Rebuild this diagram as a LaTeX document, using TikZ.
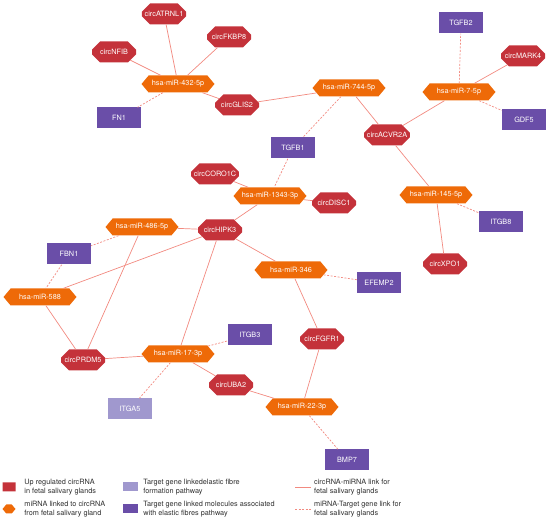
\documentclass[tikz,border=0pt]{standalone}
\usepackage{fontspec}
\setmainfont{TeX Gyre Heros}
\usepackage{xcolor}
\usepackage{tikz}
\usetikzlibrary{
arrows.meta,
positioning,
shapes.misc,
shapes.symbols
}
\definecolor{circred}{HTML}{C4323A}
\definecolor{mirorange}{HTML}{EE6A08}
\definecolor{genepurple}{HTML}{6A4EA8}
\definecolor{genelilac}{HTML}{A098CE}
\definecolor{linkpink}{HTML}{F28A80}
\definecolor{leggray}{HTML}{2E2E2E}

\begin{document}
\begin{tikzpicture}[
  x=1pt, y=-1pt,
  every node/.style={font=\fontsize{7.3}{8.8}\selectfont},
  circrna/.style={chamfered rectangle, chamfered rectangle sep=5.5pt, fill=circred, text=white, minimum width=44pt, minimum height=21pt, inner sep=0pt},
  mirna/.style={signal, signal to=east and west, signal pointer angle=100, fill=mirorange, text=white, minimum width=73pt, minimum height=17pt, inner sep=0pt},
  gene/.style={rectangle, fill=genepurple, text=white, minimum width=44pt, minimum height=21pt, inner sep=0pt},
  geneelastic/.style={gene, fill=genelilac},
  cmlink/.style={draw=linkpink, line width=0.7pt},
  mtlink/.style={draw=linkpink, line width=0.7pt, dash pattern=on 2pt off 1.5pt},
  legtext/.style={text=leggray, align=left, inner sep=0pt}
]
\useasboundingbox (0,0) rectangle (550,521);

% circRNAs
\node[circrna] (atrnl1) at (164,14) {circATRNL1};
\node[circrna] (fkbp8) at (229,37) {circFKBP8};
\node[circrna] (nfib) at (114,52) {circNFIB};
\node[circrna] (glis2) at (237,105) {circGLIS2};
\node[circrna] (mark4) at (523,56) {circMARK4};
\node[circrna] (acvr2a) at (387,135) {circACVR2A};
\node[circrna] (coro1c) at (215,174) {circCORO1C};
\node[circrna] (disc1) at (334,203) {circDISC1};
\node[circrna] (xpo1) at (445,264) {circXPO1};
\node[circrna] (hipk3) at (220,230) {circHIPK3};
\node[circrna] (prdm5) at (83,360) {circPRDM5};
\node[circrna] (uba2) at (231,385) {circUBA2};
\node[circrna] (fgfr1) at (322,339) {circFGFR1};

% miRNAs
\node[mirna] (m432) at (178,84) {hsa-miR-432-5p};
\node[mirna] (m744) at (349,88) {hsa-miR-744-5p};
\node[mirna] (m7) at (459,92) {hsa-miR-7-5p};
\node[mirna] (m1343) at (270,196) {hsa-miR-1343-3p};
\node[mirna] (m145) at (436,195) {hsa-miR-145-5p};
\node[mirna] (m486) at (142,227) {hsa-miR-486-5p};
\node[mirna] (m346) at (291,270) {hsa-miR-346};
\node[mirna] (m588) at (40,297) {hsa-miR-588};
\node[mirna] (m17) at (178,354) {hsa-miR-17-3p};
\node[mirna] (m22) at (302,407) {hsa-miR-22-3p};

% Target genes
\node[gene] (fn1) at (119,118) {FN1};
\node[gene] (tgfb2) at (461,23) {TGFB2};
\node[gene] (gdf5) at (524,120) {GDF5};
\node[gene] (tgfb1) at (293,148) {TGFB1};
\node[gene] (itgb8) at (501,222) {ITGB8};
\node[gene] (efemp2) at (379,283) {EFEMP2};
\node[gene] (fbn1) at (69,254) {FBN1};
\node[gene] (itgb3) at (250,335) {ITGB3};
\node[geneelastic] (itga5) at (130,409) {ITGA5};
\node[gene] (bmp7) at (347,460) {BMP7};

% circRNA-miRNA links
\draw[cmlink] (atrnl1) -- (m432);
\draw[cmlink] (fkbp8) -- (m432);
\draw[cmlink] (nfib) -- (m432);
\draw[cmlink] (glis2) -- (m432);
\draw[cmlink] (glis2) -- (m744);
\draw[cmlink] (m744) -- (acvr2a);
\draw[cmlink] (acvr2a) -- (m7);
\draw[cmlink] (mark4) -- (m7);
\draw[cmlink] (acvr2a) -- (m145);
\draw[cmlink] (m145) -- (xpo1);
\draw[cmlink] (coro1c) -- (m1343);
\draw[cmlink] (m1343) -- (disc1);
\draw[cmlink] (m1343) -- (hipk3);
\draw[cmlink] (hipk3) -- (m486);
\draw[cmlink] (hipk3) -- (m588);
\draw[cmlink] (hipk3) -- (m346);
\draw[cmlink] (hipk3) -- (m17);
\draw[cmlink] (m486) -- (prdm5);
\draw[cmlink] (m588) -- (prdm5);
\draw[cmlink] (prdm5) -- (m17);
\draw[cmlink] (m17) -- (uba2);
\draw[cmlink] (uba2) -- (m22);
\draw[cmlink] (m346) -- (fgfr1);
\draw[cmlink] (fgfr1) -- (m22);

% miRNA-target links
\draw[mtlink] (m432) -- (fn1);
\draw[mtlink] (m744) -- (tgfb1);
\draw[mtlink] (tgfb1) -- (m1343);
\draw[mtlink] (m7) -- (tgfb2);
\draw[mtlink] (m7) -- (gdf5);
\draw[mtlink] (m145) -- (itgb8);
\draw[mtlink] (m486) -- (fbn1);
\draw[mtlink] (fbn1) -- (m588);
\draw[mtlink] (m346) -- (efemp2);
\draw[mtlink] (m17) -- (itgb3);
\draw[mtlink] (m17) -- (itga5);
\draw[mtlink] (m22) -- (bmp7);

% Legend
\node[circrna, minimum width=13pt, minimum height=9pt, chamfered rectangle sep=3pt] (legcirc) at (9,487) {};
\node[legtext, right=8.5pt of legcirc] {Up regulated circRNA\\in fetal salivary glands};
\node[mirna, minimum width=13pt, minimum height=9pt] (legmir) at (9,509) {};
\node[legtext, right=8.5pt of legmir] {miRNA linked to circRNA\\from fetal salivary gland};
\node[geneelastic, minimum width=15pt, minimum height=9pt] (leglilac) at (130.5,487) {};
\node[legtext, right=5pt of leglilac] {Target gene linkedelastic fibre\\formation pathway};
\node[gene, minimum width=15pt, minimum height=9pt] (legpurple) at (130.5,509) {};
\node[legtext, right=5pt of legpurple] {Target gene linked molecules associated\\with elastic fibres pathway};
\coordinate (solidA) at (295,487);
\coordinate (solidB) at (311,487);
\draw[cmlink] (solidA) -- (solidB);
\node[legtext, right=3pt of solidB] {circRNA-miRNA link for\\fetal salivary glands};
\coordinate (dashA) at (295,509);
\coordinate (dashB) at (311,509);
\draw[mtlink] (dashA) -- (dashB);
\node[legtext, right=3pt of dashB] {miRNA-Target gene link for\\fetal salivary glands};

\end{tikzpicture}
\end{document}
